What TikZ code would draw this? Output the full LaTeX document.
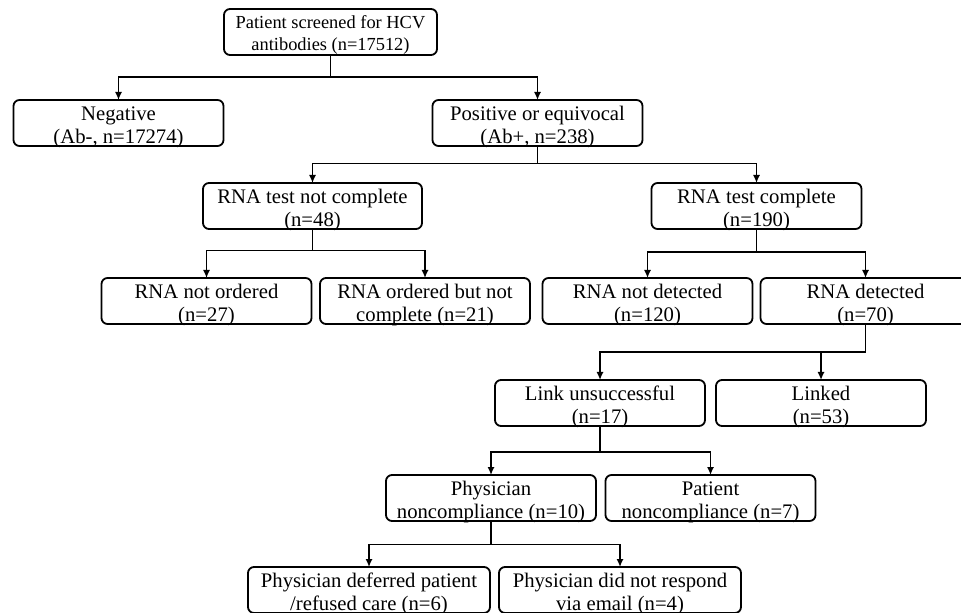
\documentclass[tikz,border=0pt]{standalone}
\usepackage{fontspec}
\setmainfont{Liberation Serif}
\usetikzlibrary{arrows.meta, positioning}
\tikzstyle{Box} = [draw, rectangle, rounded corners=3pt, line width=0.9pt, align=center,
                   minimum width=105pt, minimum height=23pt, inner sep=0pt, outer sep=0pt,
                   font=\fontsize{10.35}{11.5}\selectfont, text height=21.8pt, text depth=1.2pt]
\tikzstyle{Top} = [Box, minimum width=106.5pt, font=\fontsize{9.2}{11}\selectfont,
                   text height=20.8pt, text depth=2.2pt]
\tikzstyle{Wide} = [Box, minimum width=121pt]

\begin{document}
\begin{tikzpicture}
    [node distance = 2em, >={Latex[length=4pt, width=3.6pt]}, line width=0.85pt]
    \useasboundingbox (0,0) rectangle (480.5pt,-306.5pt);

    %% Screening
    \node [Top] (screen) at (165.25pt,-16pt) {Patient screened for HCV \\ antibodies (n=17512)};
    \node [Box, below=22.5pt of screen, xshift=-106pt] (neg) {Negative \\ (Ab-, n=17274)};
    \node [Box, below=22.5pt of screen, xshift=103.5pt] (pos) {Positive or equivocal \\ (Ab+, n=238)};

    %% RNA test
    \node [Box, below=18.5pt of pos, xshift=-112.5pt, minimum width=109.5pt] (notdone) {RNA test not complete \\ (n=48)};
    \node [Box, below=18.5pt of pos, xshift=109.5pt] (done) {RNA test complete \\ (n=190)};
    \node [Box, below=24.5pt of notdone, xshift=-53pt] (notordered) {RNA not ordered \\ (n=27)};
    \node [Box, below=24.5pt of notdone, xshift=56.25pt] (ordered) {RNA ordered but not \\ complete (n=21)};
    \node [Box, below=24.5pt of done, xshift=-54.5pt] (notdetected) {RNA not detected \\ (n=120)};
    \node [Box, below=24.5pt of done, xshift=54.5pt] (detected) {RNA detected \\ (n=70)};

    %% Linkage
    \node [Box, below=28pt of detected, xshift=-132.75pt] (unlinked) {Link unsuccessful \\ (n=17)};
    \node [Box, below=28pt of detected, xshift=-22.25pt] (linked) {Linked \\ (n=53)};
    \node [Box, below=24.5pt of unlinked, xshift=-54.5pt] (physician) {Physician \\ noncompliance (n=10)};
    \node [Box, below=24.5pt of unlinked, xshift=55.25pt] (patient) {Patient \\ noncompliance (n=7)};
    \node [Wide, below=23pt of physician, xshift=-61pt] (deferred) {Physician deferred patient \\ /refused care (n=6)};
    \node [Wide, below=23pt of physician, xshift=64.5pt] (noreply) {Physician did not respond \\ via email (n=4)};

    %% Draw
    \draw [->] (screen.south) -- ++(0,-11pt) -| (neg.north);
    \draw [->] (screen.south) -- ++(0,-11pt) -| (pos.north);
    \draw [->] (pos.south) -- ++(0,-8.75pt) -| (notdone.north);
    \draw [->] (pos.south) -- ++(0,-8.75pt) -| (done.north);
    \draw [->] (notdone.south) -- ++(0,-10.75pt) -| (notordered.north);
    \draw [->] (notdone.south) -- ++(0,-10.75pt) -| (ordered.north);
    \draw [->] (done.south) -- ++(0,-11.5pt) -| (notdetected.north);
    \draw [->] (done.south) -- ++(0,-11.5pt) -| (detected.north);
    \draw [->] (detected.south) -- ++(0,-14pt) -| (unlinked.north);
    \draw [->] (detected.south) -- ++(0,-14pt) -| (linked.north);
    \draw [->] (unlinked.south) -- ++(0,-13pt) -| (physician.north);
    \draw [->] (unlinked.south) -- ++(0,-13pt) -| (patient.north);
    \draw [->] (physician.south) -- ++(0,-11.75pt) -| (deferred.north);
    \draw [->] (physician.south) -- ++(0,-11.75pt) -| (noreply.north);

\end{tikzpicture}
\end{document}
